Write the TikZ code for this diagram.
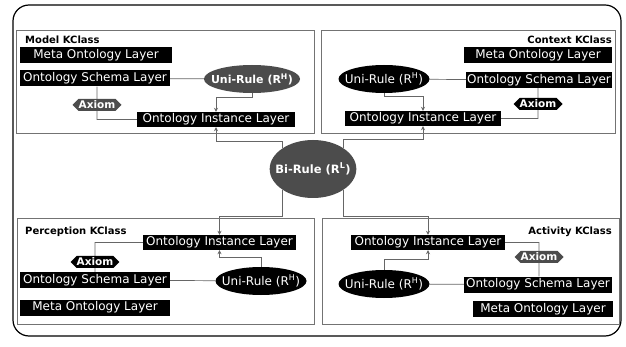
\documentclass[tikz,border=0pt]{standalone}
\usepackage{fontspec}
\setmainfont{DejaVu Sans}
\usepackage{tikz}
\usetikzlibrary{calc,arrows.meta,shapes.geometric,shapes.symbols,backgrounds}

\tikzset{
	layer/.style={fill=black, text=white, inner sep=0pt, minimum height=16, font=\fontsize{12}{12}\selectfont},
	unirule/.style={ellipse, fill=black, text=white, inner xsep=-7pt, inner ysep=0pt, minimum width=91, minimum height=28, font=\fontsize{12}{12}\selectfont},
	axiombox/.style={signal, signal to=east and west, fill=black, text=white, inner sep=0pt, minimum width=49, minimum height=12, font=\bfseries\fontsize{10.5}{10.5}\selectfont},
	kclass/.style={draw=black!55, line width=0.8pt},
	ktitle/.style={inner sep=0pt, font=\bfseries\fontsize{10}{10}\selectfont},
	link/.style={draw=black!60, line width=0.7pt, >={Stealth[length=4pt,width=4pt]}},
}

\begin{document}
\begin{tikzpicture}[x=1pt,y=-1pt]
	
	\useasboundingbox (0,0) rectangle (626,347);
	
	\draw[line width=1.2pt, rounded corners=16] (13,5) rectangle (621,336);
	
	\draw[kclass] (16,30) rectangle (314,133);
	\draw[kclass] (321,30) rectangle (615,133);
	\draw[kclass] (17,218) rectangle (314,324);
	\draw[kclass] (322,218) rectangle (619,324);
	
	% model
	\node[ktitle, anchor=west] (tmodel) at (25,40) {Model KClass};
	
	\node[layer, minimum width=152] (meta1) at (96,55) {Meta Ontology Layer};
	
	\node[layer, minimum width=150] (schema1) at (95,78.5) {Ontology Schema Layer};
	
	\node[unirule, fill=black!70, font=\bfseries\fontsize{11}{11}\selectfont] (urule1) at (252,79) {Uni-Rule (R\textsuperscript{H})};
	
	\node[axiombox, fill=black!70] (axiom1) at (97,105) {Axiom};
	
	\node[layer, minimum width=158, minimum height=15] (inst1) at (216,119.5) {Ontology Instance Layer};
	
	% context
	\node[ktitle, anchor=east] (tcontext) at (612,40) {Context KClass};
	
	\node[layer, minimum width=148] (meta2) at (538,55) {Meta Ontology Layer};
	
	\node[layer, minimum width=146] (schema2) at (539,80) {Ontology Schema Layer};
	
	\node[unirule] (urule2) at (384,79) {Uni-Rule (R\textsuperscript{H})};
	
	\node[axiombox] (axiom2) at (538,104) {Axiom};
	
	\node[layer, minimum width=156, minimum height=15] (inst2) at (423,118.5) {Ontology Instance Layer};
	
	% perception
	\node[ktitle, anchor=west] (tperception) at (25,232) {Perception KClass};
	
	\node[layer, minimum width=153, minimum height=15] (inst3) at (219.5,242.5) {Ontology Instance Layer};
	
	\node[axiombox, minimum width=46] (axiom3) at (95,262) {Axiom};
	
	\node[layer, minimum width=150] (schema3) at (95,280) {Ontology Schema Layer};
	
	\node[unirule] (urule3) at (261,281) {Uni-Rule (R\textsuperscript{H})};
	
	\node[layer, minimum width=150] (meta3) at (95,307.5) {Meta Ontology Layer};
	
	% activity
	\node[ktitle, anchor=east] (tactivity) at (612,232) {Activity KClass};
	
	\node[layer, minimum width=154, minimum height=15] (inst4) at (428,242.5) {Ontology Instance Layer};
	
	\node[axiombox, fill=black!70] (axiom4) at (539,257) {Axiom};
	
	\node[layer, minimum width=148] (schema4) at (538,284.5) {Ontology Schema Layer};
	
	\node[unirule] (urule4) at (384,284) {Uni-Rule (R\textsuperscript{H})};
	
	\node[layer, minimum width=140] (meta4) at (543,309) {Meta Ontology Layer};
	
	% bi-rule
	\node[unirule, fill=black!70, minimum width=83, minimum height=58, font=\bfseries\fontsize{11.5}{11.5}\selectfont] (birule) at (313,169) {Bi-Rule (R\textsuperscript{L})};
	
	\begin{pgfonlayer}{background}
	\draw[link] (schema1) -- (urule1);
	\draw[link] (schema1.south -| axiom1) -- (axiom1) |- (inst1.west);
	\draw[link,->] (urule1.south) -- ++(0,4) -| (inst1.north);
	
	\draw[link] (urule2) -- (schema2);
	\draw[link] (schema2.south -| axiom2) -- (axiom2) |- (inst2.east);
	\draw[link,->] (urule2.south) -- ++(0,3) -| (inst2.north);
	
	\draw[link] (schema3) -- (urule3);
	\draw[link] (schema3.north -| axiom3) -- (axiom3) |- (inst3.west);
	\draw[link,->] (urule3.north) -- ++(0,-9) -| (inst3.south);
	
	\draw[link] (urule4) -- (schema4);
	\draw[link] (inst4.east) -| (axiom4) -- (axiom4 |- schema4.north);
	\draw[link,->] (urule4.north) -- ++(0,-10) -| (inst4.south);
	
	\draw[link,<-] (inst1.south) -- ++(0,14) -| (birule.north west);
	\draw[link,<-] (inst2.south) -- ++(0,13) -| (birule.north east);
	\draw[link,->] (birule.south west) |- ($(inst3.north)+(0,-18)$) -- (inst3.north);
	\draw[link,->] (birule.south east) |- ($(inst4.north)+(0,-18)$) -- (inst4.north);
	\end{pgfonlayer}
	
\end{tikzpicture}
\end{document}
